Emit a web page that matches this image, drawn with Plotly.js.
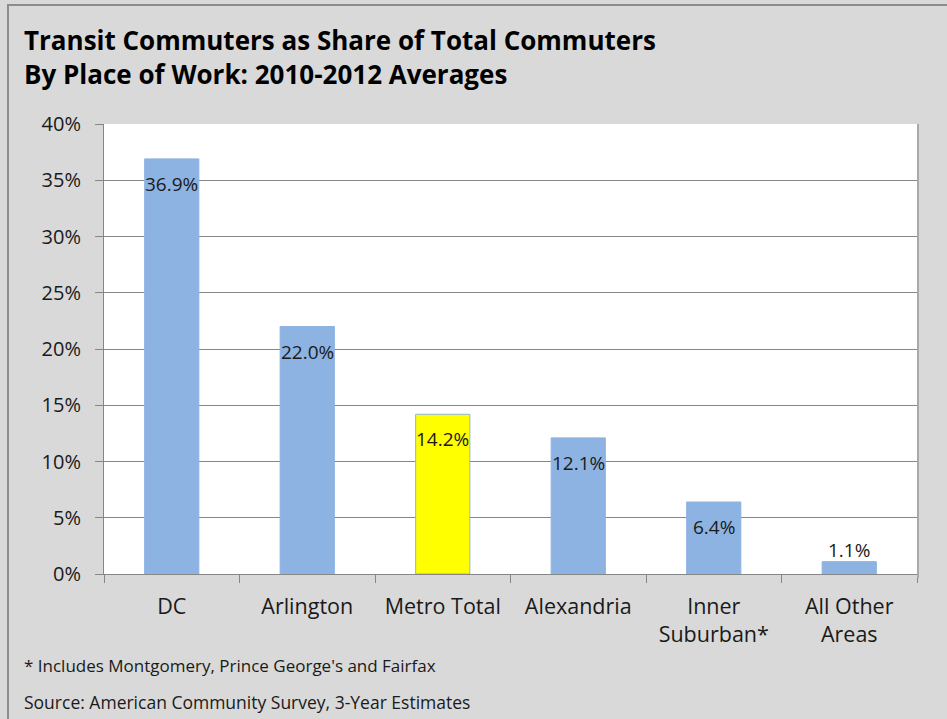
<!DOCTYPE html>
<html>
<head>
<meta charset="utf-8">
<script src="https://cdn.plot.ly/plotly-3.0.1.min.js"></script>
<style>
html,body{margin:0;padding:0;background:#d9d9d9;}
#chart{width:947px;height:719px;}
</style>
</head>
<body>
<div id="chart"></div>
<script>
const categories = ["DC", "Arlington", "Metro Total", "Alexandria", "Inner<br>Suburban*", "All Other<br>Areas"];
const shares = [36.9, 22.0, 14.2, 12.1, 6.4, 1.1];
const labels = ["36.9%", "22.0%", "14.2%", "12.1%", "6.4%", "1.1%"];
const barColors = ["#8db3e2", "#8db3e2", "#ffff00", "#8db3e2", "#8db3e2", "#8db3e2"];
const tickVals = [0, 5, 10, 15, 20, 25, 30, 35, 40];
const tickText = ["0%", "5%", "10%", "15%", "20%", "25%", "30%", "35%", "40%"];
const labelShift = [-25, -25, -25, -25, -25, 12];

const FONT = "'Open Sans', Lato, sans-serif";

const W = 947, H = 719, L = 104, R = 30, T = 124, B = 145;
const pw = W - L - R, ph = H - T - B;
const px2x = p => (p - L) / pw;
const py2y = p => (T + ph - p) / ph;

const annotations = shares.map((v, i) => ({
  x: categories[i], y: v, xref: "x", yref: "y",
  text: labels[i], showarrow: false, yanchor: "middle", yshift: labelShift[i],
  font: {family: FONT, size: 19, color: "#1a1a1a"}
}));
annotations.push({
  xref: "paper", yref: "paper", x: px2x(22), y: py2y(20),
  xanchor: "left", yanchor: "top", showarrow: false, align: "left",
  text: "<b>Transit Commuters as Share of Total Commuters<br>By Place of Work: 2010-2012 Averages</b>",
  font: {family: FONT, size: 26, color: "#000000"}
});
annotations.push({
  xref: "paper", yref: "paper", x: px2x(22), y: py2y(665),
  xanchor: "left", yanchor: "middle", showarrow: false, align: "left",
  text: "* Includes Montgomery, Prince George's and Fairfax",
  font: {family: FONT, size: 17, color: "#1a1a1a"}
});
annotations.push({
  xref: "paper", yref: "paper", x: px2x(22), y: py2y(702),
  xanchor: "left", yanchor: "middle", showarrow: false, align: "left",
  text: "Source: American Community Survey, 3-Year Estimates",
  font: {family: FONT, size: 17.5, color: "#1a1a1a"}
});

const data = [{
  type: "bar",
  x: categories,
  y: shares,
  marker: {color: barColors, line: {color: "#8db3e2", width: 1}},
  hoverinfo: "skip"
}];

const layout = {
  width: W, height: H,
  margin: {l: L, r: R, t: T, b: B, pad: 0},
  paper_bgcolor: "#d9d9d9",
  plot_bgcolor: "#ffffff",
  bargap: 0.6,
  showlegend: false,
  xaxis: {
    type: "category",
    showline: true, linecolor: "#868686", linewidth: 1,
    ticks: "outside", tickson: "boundaries", ticklen: 8, tickcolor: "#868686",
    showgrid: false,
    tickfont: {family: FONT, size: 21.5, color: "#1a1a1a"},
    ticklabelstandoff: 13,
    fixedrange: true
  },
  yaxis: {
    range: [0, 40],
    tickvals: tickVals, ticktext: tickText,
    showline: true, linecolor: "#868686", linewidth: 1,
    ticks: "outside", ticklen: 8, tickcolor: "#868686",
    showgrid: true, gridcolor: "#868686", gridwidth: 1,
    zeroline: false,
    tickfont: {family: FONT, size: 20, color: "#1a1a1a"},
    ticklabelstandoff: 10,
    fixedrange: true
  },
  shapes: [{
    type: "rect", xref: "paper", yref: "paper", layer: "above",
    x0: px2x(8), x1: px2x(960),
    y0: py2y(730), y1: py2y(5),
    line: {color: "#8c8c8c", width: 2}, fillcolor: "rgba(0,0,0,0)"
  }, {
    type: "line", xref: "paper", yref: "paper", layer: "above",
    x0: px2x(918), x1: px2x(918), y0: py2y(578), y1: py2y(124),
    line: {color: "#a9a9a9", width: 2}
  }],
  annotations: annotations
};

Plotly.newPlot("chart", data, layout, {displayModeBar: false, staticPlot: true});
</script>
</body>
</html>
